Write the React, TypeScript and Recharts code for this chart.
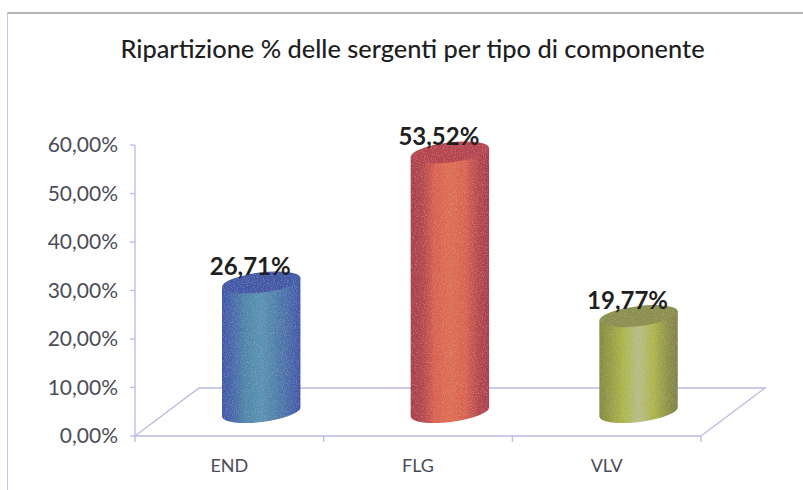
import React from "react";
import { Bar, BarChart, Cell, LabelList, usePlotArea, XAxis, YAxis } from "recharts";

const categories = ["END", "FLG", "VLV"];
const shares = [26.71, 53.52, 19.77];
const yTicks = [0, 10, 20, 30, 40, 50, 60];
const chartTitle = "Ripartizione % delle sergenti per tipo di componente";

const rows = categories.map((name, i) => ({ name, share: shares[i] }));
const percent = (v: number) => v.toFixed(2).replace(".", ",") + "%";

// how far the 3D floor pushes things back
const DEPTH_X = 64;
const DEPTH_Y = 48;
const AXIS = "#b9b9e6";

const palettes = [
  { id: "cylEnd", cap: "#3f57a6", stops: ["#3d56a8", "#4a6cab", "#4f86a8", "#5a92b4", "#4f7eaa", "#486aac", "#3d55a8"] },
  { id: "cylFlg", cap: "#b5434e", stops: ["#a93c48", "#b4464d", "#d8604f", "#dd6e52", "#d9624f", "#b6474c", "#a83c48"] },
  { id: "cylVlv", cap: "#8b8f4e", stops: ["#85893f", "#98a043", "#acb548", "#b6bd86", "#acb448", "#8e9444", "#7e8245"] },
];
const offsets = ["0%", "16%", "30%", "50%", "70%", "86%", "100%"];

function Cylinder(props: any) {
  const { x, y, width, height, index } = props;
  const p = palettes[index];
  const rx = width / 2;
  const cx = x + rx + DEPTH_X / 2;
  const top = y - DEPTH_Y / 2;
  const bottom = y + height - DEPTH_Y / 2;
  const ry = 10;
  const tilt = 7;
  const dx = rx * Math.cos((tilt * Math.PI) / 180);
  const dy = rx * Math.sin((tilt * Math.PI) / 180);
  return (
    <g filter="url(#grain)">
      <path
        d={`M${cx - dx},${top + dy} L${cx - dx},${bottom + dy} A${rx},${ry} ${-tilt} 0 0 ${cx + dx},${bottom - dy} L${cx + dx},${top - dy} Z`}
        fill={`url(#${p.id})`}
      />
      <ellipse cx={cx} cy={top} rx={rx} ry={ry} fill={p.cap} transform={`rotate(${-tilt} ${cx} ${top})`} />
    </g>
  );
}

function Floor() {
  const plot = usePlotArea();
  if (!plot) return null;
  const left = plot.x;
  const right = plot.x + plot.width;
  const base = plot.y + plot.height;
  const band = plot.width / categories.length;
  return (
    <g fill="none" stroke={AXIS} strokeWidth={1.3}>
      <path d={`M${left},${base} L${left + DEPTH_X},${base - DEPTH_Y} L${right + DEPTH_X},${base - DEPTH_Y} L${right},${base}`} />
      {[0, 1, 2, 3].map((i) => (
        <line key={i} x1={left + band * i} x2={left + band * i} y1={base} y2={base + 6} />
      ))}
    </g>
  );
}

function BarLabel(props: any) {
  const { x, y, width, value } = props;
  return (
    <text x={x + width / 2 + 21} y={y - 31} textAnchor="middle" fontSize={24} fontWeight={700} fontFamily="Lato" fill="#1f1f1f">
      {percent(value)}
    </text>
  );
}

export default function App() {
  return (
    <div style={{ position: "absolute", left: 0, top: 0, width: 803, height: 490, background: "#fff", overflow: "hidden" }}>
      <div style={{ position: "absolute", left: 7, top: 12, width: 796, height: 478, boxSizing: "border-box", borderTop: "2px solid #b4b4b4", borderLeft: "1.5px solid #c6c6ee" }} />
      <div style={{ position: "absolute", left: 0, top: 33, width: 825, textAlign: "center", fontFamily: "Lato", fontSize: 25.4, fontWeight: 500, color: "#1e1e1e", lineHeight: "30px" }}>
        {chartTitle}
      </div>
      <div style={{ position: "absolute", left: 0, top: 0 }}>
        <BarChart width={803} height={490} data={rows} margin={{ top: 145, right: 102, bottom: 0, left: 0 }} barCategoryGap="29%">
          <defs>
            {palettes.map((p) => (
              <linearGradient key={p.id} id={p.id} x1="0" x2="1" y1="0" y2="0">
                {p.stops.map((c, i) => (
                  <stop key={i} offset={offsets[i]} stopColor={c} />
                ))}
              </linearGradient>
            ))}
            {/* scanned look: slight blur plus fine noise kept inside the shape */}
            <filter id="grain" x="-5%" y="-5%" width="110%" height="110%">
              <feGaussianBlur in="SourceGraphic" stdDeviation="0.6" result="soft" />
              <feTurbulence type="fractalNoise" baseFrequency="0.9" numOctaves="2" seed="4" result="noise" />
              <feColorMatrix in="noise" type="matrix" values="0 0 0 0 1  0 0 0 0 1  0 0 0 0 1  1.6 0 0 0 -0.75" result="speck" />
              <feComposite in="speck" in2="soft" operator="in" result="clipped" />
              <feComponentTransfer in="clipped" result="faint">
                <feFuncA type="linear" slope="0.22" />
              </feComponentTransfer>
              <feMerge>
                <feMergeNode in="soft" />
                <feMergeNode in="faint" />
              </feMerge>
            </filter>
          </defs>
          <XAxis
            dataKey="name"
            height={54}
            tickLine={false}
            axisLine={{ stroke: AXIS, strokeWidth: 1.3 }}
            tick={{ fontFamily: "Lato", fontSize: 18, fill: "#4c4c58" }}
            tickMargin={17}
            interval={0}
          />
          <YAxis
            width={135}
            domain={[0, 60]}
            ticks={yTicks}
            tickFormatter={percent}
            axisLine={{ stroke: AXIS, strokeWidth: 1.3 }}
            tickLine={{ stroke: AXIS, strokeWidth: 1.3 }}
            tickSize={5}
            tickMargin={12}
            tick={{ fontFamily: "Lato", fontSize: 21, fill: "#4c4c58" }}
          />
          <Floor />
          <Bar dataKey="share" isAnimationActive={false} shape={<Cylinder />}>
            {rows.map((r) => (
              <Cell key={r.name} />
            ))}
            <LabelList dataKey="share" content={<BarLabel />} />
          </Bar>
        </BarChart>
      </div>
    </div>
  );
}
